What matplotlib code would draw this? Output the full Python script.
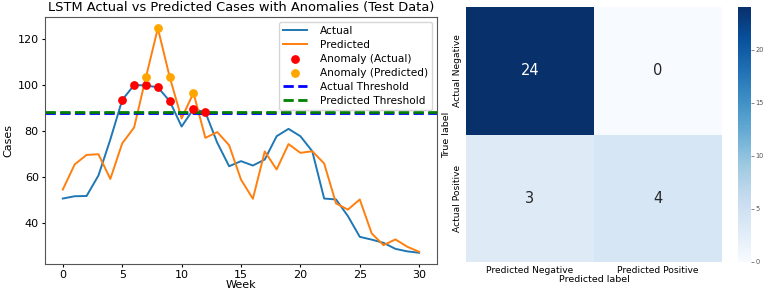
import numpy as np
import matplotlib
matplotlib.use('Agg')
import matplotlib.pyplot as plt
import seaborn as sns

# Données
weeks = np.arange(31)
actual = [50.8, 51.8, 51.9, 60.8, 76.4, 93.5, 100.0, 99.8, 99.0, 93.0, 82.0, 89.6, 88.2,
          75.0, 64.8, 67.0, 65.1, 67.7, 77.8, 81.0, 77.8, 71.3, 50.8, 50.4, 43.2, 34.2,
          33.0, 31.6, 29.0, 27.9, 27.3]
predicted = [54.7, 65.6, 69.7, 70.0, 59.3, 74.7, 81.6, 103.4, 124.6, 103.4, 85.5, 96.6, 77.1,
             79.6, 73.9, 59.0, 50.7, 71.2, 63.4, 74.4, 70.6, 71.3, 66.0, 48.7, 46.0, 50.4,
             35.7, 30.6, 33.1, 29.9, 27.7]
actual_threshold = 87.8
predicted_threshold = 88.5

cm = [[24, 0], [3, 4]]
cm_xlabels = ['Predicted Negative', 'Predicted Positive']
cm_ylabels = ['Actual Negative', 'Actual Positive']

actual = np.array(actual)
predicted = np.array(predicted)
anom_a = actual > actual_threshold
anom_p = predicted > predicted_threshold

fig = plt.figure(figsize=(7.67, 2.94), dpi=100)
W, H = 767, 294

# Courbes
ax = fig.add_axes([45 / W, 1 - 264 / H, (437 - 45) / W, (264 - 17) / H])
ax.plot(weeks, actual, label='Actual', color='#1f77b4', linewidth=1.4)
ax.plot(weeks, predicted, label='Predicted', color='#ff7f0e', linewidth=1.4)
ax.scatter(weeks[anom_a], actual[anom_a], color='red', s=28, label='Anomaly (Actual)', zorder=3)
ax.scatter(weeks[anom_p], predicted[anom_p], color='orange', s=28, label='Anomaly (Predicted)', zorder=3)
ax.axhline(actual_threshold, color='blue', linestyle='--', linewidth=2, label='Actual Threshold')
ax.axhline(predicted_threshold, color='green', linestyle='--', linewidth=2, label='Predicted Threshold')
ax.set_title('LSTM Actual vs Predicted Cases with Anomalies (Test Data)', fontsize=9.4, pad=4)
ax.set_xlabel('Week', fontsize=8, labelpad=0)
ax.set_ylabel('Cases', fontsize=8, labelpad=3)
ax.tick_params(labelsize=8, length=2.5, pad=2)
ax.legend(fontsize=7.6, loc='upper right', handlelength=2.3, labelspacing=0.38,
          borderpad=0.35, handletextpad=1.2, handleheight=0.6)
for s in ax.spines.values():
    s.set_color('#555555')

# Matrice de confusion
ax2 = fig.add_axes([466 / W, 1 - 262 / H, (722 - 466) / W, (262 - 7) / H])
cax = fig.add_axes([738 / W, 1 - 262 / H, (751 - 738) / W, (262 - 7) / H])
sns.heatmap(cm, annot=True, fmt='d', cmap='Blues', ax=ax2, cbar_ax=cax,
            xticklabels=cm_xlabels, yticklabels=cm_ylabels,
            annot_kws={'fontsize': 10.5})
ax2.set_xlabel('Predicted label', fontsize=6.8, labelpad=0)
ax2.set_ylabel('True label', fontsize=6.8, labelpad=1)
ax2.tick_params(labelsize=6.6, length=0, pad=3)
cax.tick_params(labelsize=4.8, length=2, width=0.5, colors='#555555', pad=1)
cax.set_yticks([0, 5, 10, 15, 20])

fig.savefig('out.png', dpi=100)
